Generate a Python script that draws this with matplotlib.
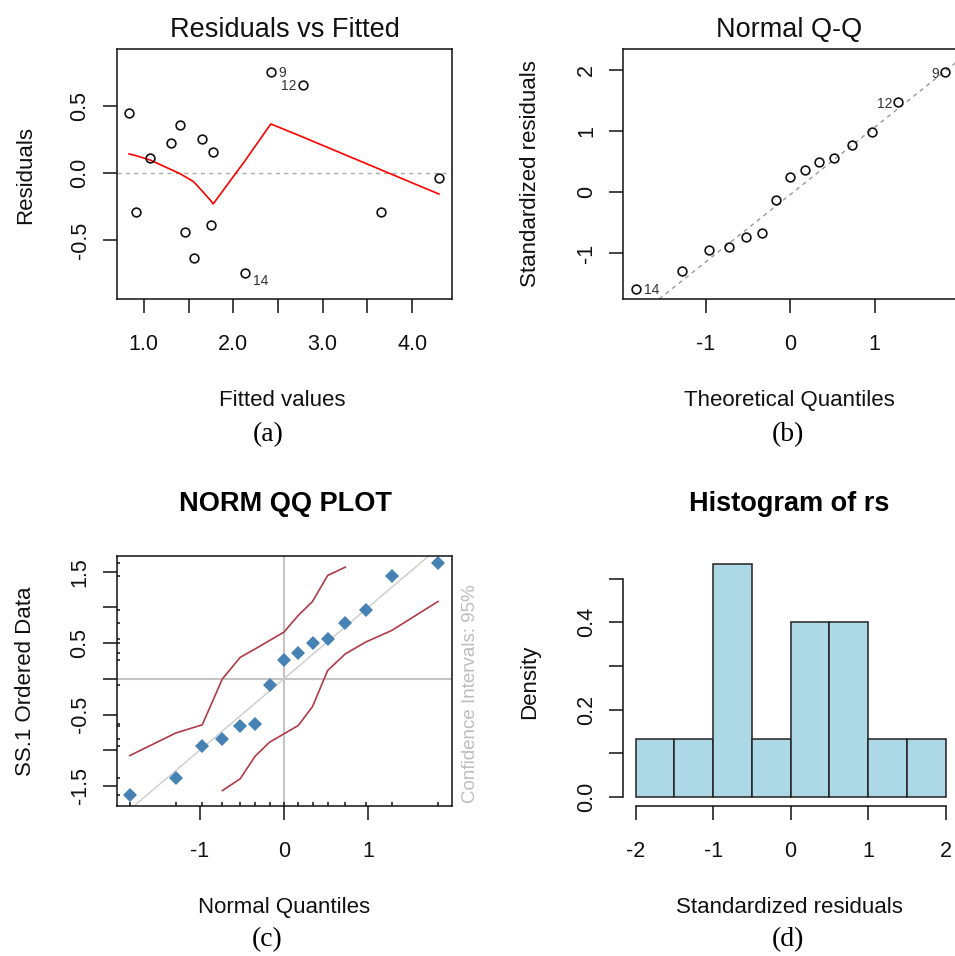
import numpy as np
import matplotlib
matplotlib.use("Agg")
import matplotlib.pyplot as plt

plt.rcParams['font.family'] = ['Liberation Sans', 'DejaVu Sans']
plt.rcParams['axes.unicode_minus'] = False

# -- (a) residuals vs fitted --
fitted = [0.835, 0.91, 1.07, 1.30, 1.41, 1.456, 1.557, 1.652, 1.753, 1.775, 2.13, 2.42, 2.775, 3.655, 4.30]
resid = [0.448, -0.293, 0.11, 0.226, 0.356, -0.438, -0.632, 0.254, -0.386, 0.159, -0.749, 0.751, 0.657, -0.293, -0.035]
smooth = [0.142, 0.13, 0.097, 0.027, -0.007, -0.025, -0.065, -0.134, -0.21, -0.231, 0.09, 0.366, 0.269, 0.023, -0.157]
resid_ids = {10: "14", 11: "9", 12: "12"}

# -- (b) normal Q-Q of standardized residuals --
theo_q = [-1.83, -1.28, -0.97, -0.73, -0.52, -0.34, -0.17, 0.0, 0.17, 0.34, 0.52, 0.73, 0.97, 1.28, 1.83]
std_resid = [-1.588, -1.30, -0.956, -0.895, -0.732, -0.671, -0.131, 0.239, 0.354, 0.496, 0.556, 0.763, 0.987, 1.473, 1.964]
qq_ids = {0: "14", 13: "12", 14: "9"}
qqline_intercept = -0.04
qqline_slope = 1.10

# -- (c) NORM QQ PLOT --
ss_data = [-1.625, -1.387, -0.934, -0.84, -0.654, -0.635, -0.084, 0.257, 0.36, 0.504, 0.56, 0.78, 0.966, 1.433, 1.625]
ci_up_x = [-1.83, -1.28, -0.97, -0.73, -0.52, -0.34, -0.17, 0.0, 0.17, 0.34, 0.52, 0.73]
ci_up = [-1.074, -0.756, -0.644, 0.0, 0.30, 0.42, 0.537, 0.654, 0.887, 1.083, 1.447, 1.564]
ci_lo_x = [-0.73, -0.52, -0.34, -0.17, 0.0, 0.17, 0.34, 0.52, 0.73, 0.97, 1.28, 1.83]
ci_lo = [-1.564, -1.40, -1.08, -0.887, -0.77, -0.654, -0.388, 0.117, 0.35, 0.514, 0.677, 1.083]

# -- (d) histogram of rs --
bin_edges = [-2.0, -1.5, -1.0, -0.5, 0.0, 0.5, 1.0, 1.5, 2.0]
density = [0.1333, 0.1333, 0.5333, 0.1333, 0.4, 0.4, 0.1333, 0.1333]

W, H = 955, 956
fig = plt.figure(figsize=(W / 100, H / 100), dpi=100)

TITLE = 19.5
LAB = 16
TICK = 15.5
INK = "#111111"


def add_ax(l, t, r, b):
    return fig.add_axes([l / W, 1 - b / H, (r - l) / W, (b - t) / H])


def put(x, y, s, **kw):
    return fig.text(x / W, 1 - y / H, s, **kw)


def style(ax):
    for sp in ax.spines.values():
        sp.set_linewidth(1.1)
        sp.set_color(INK)
    ax.tick_params(length=10, width=1.1, color=INK, labelsize=TICK, labelcolor=INK)
    ax.tick_params(axis='x', pad=15)
    ax.tick_params(axis='y', pad=9)
    plt.setp(ax.get_yticklabels(), rotation=90, va='center')


def ylab(x, y, s, **kw):
    put(x, y, s, rotation=90, rotation_mode='anchor', ha='center', va='baseline',
        fontsize=LAB, color=INK, **kw)


def xlab(x, y, s, **kw):
    put(x, y, s, ha='center', va='baseline', fontsize=LAB, color=INK, **kw)


def caption(x, y, s):
    put(x, y, s, ha='center', va='baseline', fontsize=20, family='Liberation Serif', color='black')


# (a)
ax = add_ax(117, 49, 452, 299)
ax.axhline(0, color='#aaaaaa', lw=1, ls=(0, (3, 3)))
ax.plot(fitted, smooth, color='red', lw=1.2)
ax.plot(fitted, resid, 'o', mfc='none', mec=INK, ms=6.3, mew=1.2)
for i, s in resid_ids.items():
    if fitted[i] < 2.57:
        off, ha = (8, -1 if i != 10 else -8), 'left'
    else:
        off, ha = (-6, -1), 'right'
    ax.annotate(s, (fitted[i], resid[i]), xytext=off, textcoords='offset pixels',
                ha=ha, va='center', fontsize=10, color='#333333')
ax.set_xlim(0.70, 4.446)
ax.set_ylim(-0.94, 0.925)
ax.set_xticks([1.0, 1.5, 2.0, 2.5, 3.0, 3.5, 4.0], ['1.0', '', '2.0', '', '3.0', '', '4.0'])
ax.set_yticks([-0.5, 0.0, 0.5], ['-0.5', '0.0', '0.5'])
style(ax)
put(285, 36.7, "Residuals vs Fitted", ha='center', va='baseline', fontsize=TITLE, color=INK)
xlab(282.5, 406, "Fitted values")
ylab(30.7, 175, "Residuals")
caption(268, 441, "(a)")

# (b)
ax = add_ax(623.3, 49, 957.4, 299)
ax.axline((0, qqline_intercept), slope=qqline_slope, color='#999999', lw=1, ls=(0, (3, 3)))
ax.plot(theo_q, std_resid, 'o', mfc='none', mec=INK, ms=6.3, mew=1.2)
for i, s in qq_ids.items():
    if theo_q[i] < 0:
        off, ha = (8, -1), 'left'
    else:
        off, ha = (-6, -2), 'right'
    ax.annotate(s, (theo_q[i], std_resid[i]), xytext=off, textcoords='offset pixels',
                ha=ha, va='center', fontsize=10, color='#333333')
ax.set_xlim(-1.98, 1.98)
ax.set_ylim(-1.75, 2.34)
ax.set_xticks([-1, 0, 1])
ax.set_yticks([-1, 0, 1, 2])
style(ax)
put(789, 36.7, "Normal Q-Q", ha='center', va='baseline', fontsize=TITLE, color=INK)
xlab(789.5, 406, "Theoretical Quantiles")
ylab(536, 174, "Standardized residuals")
caption(788, 441, "(b)")

# (c)
ax = add_ax(117, 555.7, 452.3, 806)
ax.axhline(0, color='#c4c4c4', lw=1.5)
ax.axvline(0, color='#c4c4c4', lw=1.5)
ax.axline((0, 0), slope=1, color='#cccccc', lw=1)
ax.plot(ci_up_x, ci_up, color='#b03a48', lw=1.2)
ax.plot(ci_lo_x, ci_lo, color='#b03a48', lw=1.2)
ax.plot(theo_q, ss_data, 'D', color='#4682b4', ms=7, mew=0)
ax.vlines(theo_q, 0, 0.016, transform=ax.get_xaxis_transform(), color=INK, lw=1.1)
ax.hlines(ss_data, 0, 0.01, transform=ax.get_yaxis_transform(), color=INK, lw=1.1)
ax.set_xlim(-1.982, 2.0)
ax.set_ylim(-1.78, 1.724)
ax.set_xticks([-1, 0, 1])
ax.set_yticks([-1.5, -1.0, -0.5, 0.0, 0.5, 1.0, 1.5], ['-1.5', '', '-0.5', '', '0.5', '', '1.5'])
style(ax)
put(285, 511, "NORM QQ PLOT", ha='center', va='baseline', fontsize=TITLE, fontweight='bold', color='black')
xlab(284, 912.7, "Normal Quantiles")
ylab(30.7, 681, "SS.1 Ordered Data")
put(475, 694, "Confidence Intervals: 95%", rotation=90, rotation_mode='anchor',
    ha='center', va='baseline', fontsize=13.5, color='#bdbdbd')
caption(267, 946, "(c)")

# (d)
ax = add_ax(623.3, 555, 958, 806)
ax.bar(bin_edges[:-1], density, width=np.diff(bin_edges), align='edge',
       color='#add8e6', edgecolor='#222222', lw=1.1)
ax.set_xlim(-2.16, 2.16)
ax.set_ylim(-0.0213, 0.5547)
ax.spines['top'].set_visible(False)
ax.spines['right'].set_visible(False)
ax.spines['left'].set_bounds(0, 0.5)
ax.spines['bottom'].set_bounds(-2, 2)
ax.set_xticks([-2, -1, 0, 1, 2])
ax.set_yticks([0.0, 0.1, 0.2, 0.3, 0.4, 0.5], ['0.0', '', '0.2', '', '0.4', ''])
style(ax)
put(789, 510.7, "Histogram of rs", ha='center', va='baseline', fontsize=TITLE, fontweight='bold', color='black')
xlab(789.7, 912.7, "Standardized residuals")
ylab(535, 681.7, "Density")
caption(788, 946, "(d)")

fig.savefig("out.png", dpi=100)
